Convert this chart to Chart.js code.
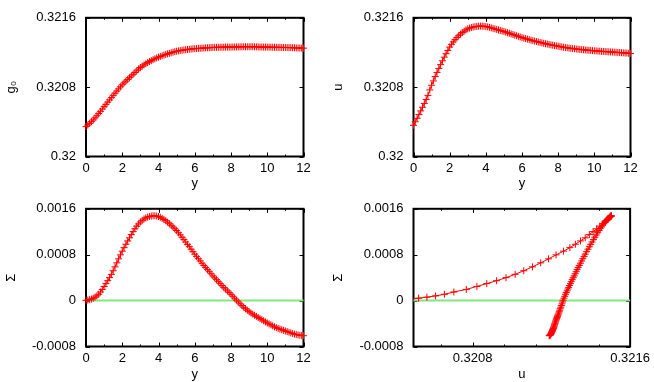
<!DOCTYPE html>
<html>
<head>
<meta charset="utf-8">
<script src="https://cdn.jsdelivr.net/npm/chart.js@4.4.1/dist/chart.umd.min.js"></script>
<style>
  body { margin: 0; background: #fff; }
  canvas { position: absolute; }
</style>
</head>
<body>
<canvas id="cTL" width="327" height="191" style="left:0;top:0"></canvas>
<canvas id="cTR" width="327" height="191" style="left:327px;top:0"></canvas>
<canvas id="cBL" width="327" height="191" style="left:0;top:191px"></canvas>
<canvas id="cBR" width="327" height="191" style="left:327px;top:191px"></canvas>
<script>
// sample points (y coordinate)
const yVals = [
  0, 0.1, 0.2, 0.3, 0.4, 0.5, 0.6, 0.7, 0.8, 0.9,
  1, 1.1, 1.2, 1.3, 1.4, 1.5, 1.6, 1.7, 1.8, 1.9,
  2, 2.1, 2.2, 2.3, 2.4, 2.5, 2.6, 2.7, 2.8, 2.9,
  3, 3.1, 3.2, 3.3, 3.4, 3.5, 3.6, 3.7, 3.8, 3.9,
  4, 4.1, 4.2, 4.3, 4.4, 4.5, 4.6, 4.7, 4.8, 4.9,
  5, 5.1, 5.2, 5.3, 5.4, 5.5, 5.6, 5.7, 5.8, 5.9,
  6, 6.1, 6.2, 6.3, 6.4, 6.5, 6.6, 6.7, 6.8, 6.9,
  7, 7.1, 7.2, 7.3, 7.4, 7.5, 7.6, 7.7, 7.8, 7.9,
  8, 8.1, 8.2, 8.3, 8.4, 8.5, 8.6, 8.7, 8.8, 8.9,
  9, 9.1, 9.2, 9.3, 9.4, 9.5, 9.6, 9.7, 9.8, 9.9,
  10, 10.1, 10.2, 10.3, 10.4, 10.5, 10.6, 10.7, 10.8, 10.9,
  11, 11.1, 11.2, 11.3, 11.4, 11.5, 11.6, 11.7, 11.8, 11.9,
  12
];

const g0Vals = [
  0.320345, 0.320363, 0.320382, 0.320402, 0.320423, 0.320446, 0.320470, 0.320495, 0.320521, 0.320548,
  0.320575, 0.320601, 0.320627, 0.320653, 0.320679, 0.320705, 0.320730, 0.320755, 0.320780, 0.320804,
  0.320828, 0.320849, 0.320869, 0.320889, 0.320909, 0.320929, 0.320949, 0.320969, 0.320989, 0.321009,
  0.321027, 0.321042, 0.321056, 0.321070, 0.321083, 0.321095, 0.321106, 0.321117, 0.321127, 0.321137,
  0.321146, 0.321154, 0.321162, 0.321170, 0.321177, 0.321184, 0.321190, 0.321197, 0.321203, 0.321209,
  0.321214, 0.321218, 0.321222, 0.321226, 0.321229, 0.321232, 0.321235, 0.321237, 0.321240, 0.321242,
  0.321244, 0.321245, 0.321247, 0.321248, 0.321250, 0.321251, 0.321253, 0.321254, 0.321255, 0.321257,
  0.321258, 0.321259, 0.321259, 0.321260, 0.321260, 0.321261, 0.321261, 0.321262, 0.321262, 0.321262,
  0.321262, 0.321263, 0.321263, 0.321264, 0.321264, 0.321265, 0.321265, 0.321266, 0.321266, 0.321266,
  0.321266, 0.321266, 0.321266, 0.321265, 0.321265, 0.321264, 0.321263, 0.321263, 0.321262, 0.321262,
  0.321262, 0.321261, 0.321261, 0.321260, 0.321260, 0.321260, 0.321259, 0.321259, 0.321258, 0.321258,
  0.321258, 0.321257, 0.321256, 0.321256, 0.321255, 0.321254, 0.321253, 0.321252, 0.321251, 0.321250,
  0.321250
];

const uVals = [
  0.320360, 0.320400, 0.320441, 0.320484, 0.320526, 0.320568, 0.320612, 0.320657, 0.320705, 0.320768,
  0.320822, 0.320872, 0.320922, 0.320970, 0.321016, 0.321060, 0.321104, 0.321146, 0.321186, 0.321224,
  0.321262, 0.321294, 0.321322, 0.321348, 0.321372, 0.321393, 0.321412, 0.321430, 0.321446, 0.321460,
  0.321472, 0.321481, 0.321488, 0.321494, 0.321498, 0.321501, 0.321503, 0.321504, 0.321504, 0.321502,
  0.321499, 0.321495, 0.321490, 0.321484, 0.321478, 0.321472, 0.321466, 0.321460, 0.321454, 0.321448,
  0.321442, 0.321435, 0.321428, 0.321421, 0.321414, 0.321407, 0.321400, 0.321393, 0.321386, 0.321379,
  0.321372, 0.321366, 0.321360, 0.321354, 0.321348, 0.321342, 0.321336, 0.321331, 0.321326, 0.321321,
  0.321316, 0.321311, 0.321306, 0.321301, 0.321297, 0.321292, 0.321288, 0.321284, 0.321280, 0.321276,
  0.321272, 0.321268, 0.321264, 0.321260, 0.321257, 0.321254, 0.321251, 0.321248, 0.321245, 0.321243,
  0.321240, 0.321238, 0.321235, 0.321233, 0.321231, 0.321229, 0.321227, 0.321225, 0.321223, 0.321221,
  0.321219, 0.321218, 0.321216, 0.321215, 0.321213, 0.321212, 0.321210, 0.321209, 0.321207, 0.321206,
  0.321205, 0.321203, 0.321202, 0.321200, 0.321199, 0.321197, 0.321196, 0.321194, 0.321193, 0.321191,
  0.321189
];

const sigmaVals = [
  0.000005, 0.000010, 0.000017, 0.000028, 0.000042, 0.000060, 0.000082, 0.000110, 0.000150, 0.000195,
  0.000247, 0.000296, 0.000347, 0.000400, 0.000458, 0.000520, 0.000588, 0.000658, 0.000728, 0.000797,
  0.000862, 0.000923, 0.000982, 0.001040, 0.001094, 0.001150, 0.001202, 0.001252, 0.001297, 0.001336,
  0.001370, 0.001398, 0.001422, 0.001440, 0.001455, 0.001466, 0.001473, 0.001477, 0.001478, 0.001474,
  0.001466, 0.001452, 0.001434, 0.001414, 0.001392, 0.001367, 0.001340, 0.001312, 0.001283, 0.001253,
  0.001221, 0.001183, 0.001144, 0.001104, 0.001063, 0.001022, 0.000980, 0.000939, 0.000896, 0.000853,
  0.000810, 0.000771, 0.000730, 0.000692, 0.000652, 0.000613, 0.000578, 0.000540, 0.000504, 0.000468,
  0.000431, 0.000398, 0.000365, 0.000330, 0.000296, 0.000263, 0.000230, 0.000202, 0.000170, 0.000140,
  0.000110, 0.000075, 0.000042, 0.000008, -0.000024, -0.000056, -0.000086, -0.000115, -0.000142, -0.000168,
  -0.000194, -0.000216, -0.000236, -0.000256, -0.000275, -0.000296, -0.000314, -0.000333, -0.000352, -0.000371,
  -0.000390, -0.000406, -0.000422, -0.000440, -0.000457, -0.000473, -0.000484, -0.000496, -0.000507, -0.000518,
  -0.000530, -0.000540, -0.000551, -0.000562, -0.000574, -0.000585, -0.000592, -0.000598, -0.000604, -0.000608,
  -0.000612
];

// axis ranges and ticks
const yRange = [0, 12];
const yTicks = [0, 2, 4, 6, 8, 10, 12];
const yTickLabels = ["0", "2", "4", "6", "8", "10", "12"];
const yMinor = [1, 3, 5, 7, 9, 11];

const uRange = [0.32, 0.3216];
const uTicks = [0.32, 0.3208, 0.3216];
const uTickLabels = ["0.32", "0.3208", "0.3216"];

const sigmaRange = [-0.0008, 0.0016];
const sigmaTicks = [-0.0008, 0, 0.0008, 0.0016];
const sigmaTickLabels = ["-0.0008", "0", "0.0008", "0.0016"];

const uxRange = [0.3205, 0.3216];
const uxTicks = [0.3208, 0.3216];
const uxTickLabels = ["0.3208", "0.3216"];
const uxMinor = [0.32064, 0.32096, 0.32112, 0.32128, 0.32144];

const RED = "rgb(255,0,0)";
const GREEN = "rgb(128,232,128)";
const FONT = { family: "'Liberation Sans', Arial, 'DejaVu Sans', sans-serif", size: 13 };

// gnuplot-like box with inward ticks
const framePlugin = {
  id: "frame",
  beforeDatasetsDraw(chart, args, opts) {
    const { ctx, chartArea: a, scales } = chart;
    const line = (x1, y1, x2, y2) => {
      ctx.beginPath(); ctx.moveTo(x1, y1); ctx.lineTo(x2, y2); ctx.stroke();
    };
    ctx.save();
    ctx.strokeStyle = "#000";
    ctx.lineWidth = 1;
    const xt = (vals, len) => vals.forEach(v => {
      const p = Math.round(scales.x.getPixelForValue(v)) + 0.5;
      line(p, a.bottom, p, a.bottom - len);
      line(p, a.top, p, a.top + len);
    });
    const yt = (vals, len) => vals.forEach(v => {
      const p = Math.round(scales.y.getPixelForValue(v)) + 0.5;
      line(a.left, p, a.left + len, p);
      line(a.right, p, a.right - len, p);
    });
    xt(opts.xMajor, 4);
    xt(opts.xMinor, 2);
    yt(opts.yMajor, 4);
    ctx.lineWidth = 2;
    ctx.strokeRect(a.left, a.top, a.right - a.left, a.bottom - a.top);
    ctx.restore();
  }
};

function axis(range, ticks, labels, title, isX, fitSize) {
  return {
    type: "linear",
    min: range[0],
    max: range[1],
    afterBuildTicks: s => { s.ticks = ticks.map(v => ({ value: v })); },
    afterFit: s => { if (isX) s.height = fitSize; else s.width = fitSize; },
    ticks: {
      color: "#000",
      font: FONT,
      padding: isX ? 4 : 10,
      maxRotation: 0,
      autoSkip: false,
      callback: (v, i) => labels[i]
    },
    grid: { display: false, drawTicks: false },
    border: { display: false },
    title: {
      display: true,
      text: title,
      color: "#000",
      font: FONT,
      padding: isX ? { top: 0, bottom: 0 } : { top: 4, bottom: 0 }
    }
  };
}

function curve(xs, ys, clip) {
  return {
    data: xs.map((v, i) => ({ x: v, y: ys[i] })),
    borderColor: RED,
    backgroundColor: RED,
    borderWidth: 1,
    pointStyle: "cross",
    pointRadius: 3.5,
    pointBorderWidth: 1,
    pointBorderColor: RED,
    tension: 0,
    clip: clip
  };
}

function zeroLine(range) {
  return {
    data: [{ x: range[0], y: 0 }, { x: range[1], y: 0 }],
    borderColor: GREEN,
    borderWidth: 2,
    pointRadius: 0,
    clip: false
  };
}

function panel(id, datasets, xAxis, yAxis, marks) {
  return new Chart(document.getElementById(id), {
    type: "line",
    data: { datasets: datasets },
    options: {
      responsive: false,
      animation: false,
      events: [],
      layout: { padding: { left: 0, right: 23.5, top: 13, bottom: 0 } },
      plugins: { legend: { display: false }, tooltip: { enabled: false }, frame: marks },
      scales: { x: xAxis, y: yAxis }
    },
    plugins: [framePlugin]
  });
}

panel("cTL",
  [curve(yVals, g0Vals, false)],
  axis(yRange, yTicks, yTickLabels, "y", true, 34.5),
  axis(uRange, uTicks, uTickLabels, "g\u2080", false, 86),
  { xMajor: yTicks, xMinor: yMinor, yMajor: uTicks });

panel("cTR",
  [curve(yVals, uVals, false)],
  axis(yRange, yTicks, yTickLabels, "y", true, 34.5),
  axis(uRange, uTicks, uTickLabels, "u", false, 86.5),
  { xMajor: yTicks, xMinor: yMinor, yMajor: uTicks });

panel("cBL",
  [curve(yVals, sigmaVals, false), zeroLine(yRange)],
  axis(yRange, yTicks, yTickLabels, "y", true, 35.5),
  axis(sigmaRange, sigmaTicks, sigmaTickLabels, "\u03A3", false, 86),
  { xMajor: yTicks, xMinor: yMinor, yMajor: sigmaTicks });

panel("cBR",
  [curve(uVals, sigmaVals, { left: 0, top: 6, right: 6, bottom: 6 }), zeroLine(uxRange)],
  axis(uxRange, uxTicks, uxTickLabels, "u", true, 35.5),
  axis(sigmaRange, sigmaTicks, sigmaTickLabels, "\u03A3", false, 86.5),
  { xMajor: uxTicks, xMinor: uxMinor, yMajor: sigmaTicks });
</script>
</body>
</html>
